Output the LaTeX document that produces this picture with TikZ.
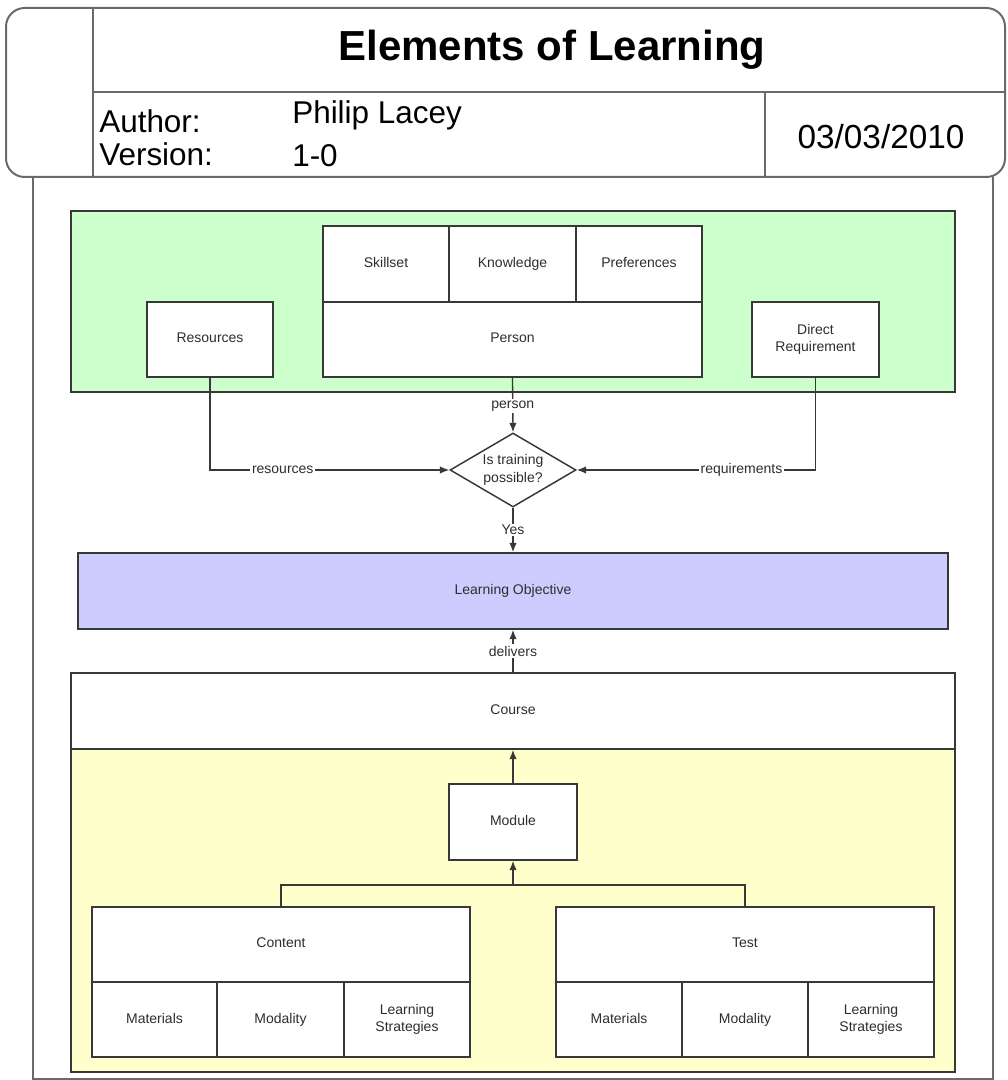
\documentclass[tikz,border=0pt]{standalone}
\usepackage{fontspec}
\setmainfont{Liberation Sans}
\usetikzlibrary{shapes.geometric,arrows.meta}
\definecolor{greenfill}{HTML}{CCFFCC}
\definecolor{bluefill}{HTML}{CCCCFF}
\definecolor{yellowfill}{HTML}{FFFFCC}
\definecolor{linecol}{HTML}{383838}
\definecolor{framecol}{HTML}{6A6A6A}
\definecolor{textcol}{HTML}{2E2E2E}
\tikzset{
  sz/.style 2 args={minimum width=#1*0.75pt, minimum height=#2*0.75pt},
  box/.style={draw=linecol, line width=1.1pt, fill=white, inner sep=0pt, align=center,
    font=\fontsize{10.5}{13}\selectfont, text=textcol,
    execute at begin node={\vphantom{Ag}}},
  area/.style={draw=linecol, line width=1.1pt, inner sep=0pt},
  lbl/.style={fill=white, inner sep=1.2pt, font=\fontsize{10.5}{13}\selectfont, text=textcol},
  conn/.style={draw=linecol, line width=1pt},
  arr/.style={conn, -{Latex[length=7pt,width=5.5pt]}},
  frm/.style={draw=framecol, line width=1.5pt},
  hdr/.style={inner sep=0pt, text=black},
}
\begin{document}
\begin{tikzpicture}[x=0.75pt,y=-0.75pt]
\useasboundingbox (0,0) rectangle (1007,1080);

% title block
\draw[frm, rounded corners=14pt] (6,8) rectangle (1005,177);
\draw[frm] (93,8) -- (93,177);
\draw[frm] (93,92) -- (1005,92);
\draw[frm] (765,92) -- (765,177);
\node[hdr, anchor=base, font=\fontsize{31.5}{36}\selectfont\bfseries] (title) at (552,61) {Elements of Learning};
\node[hdr, anchor=base west, font=\fontsize{23.6}{28}\selectfont] (author) at (99,133) {Author:};
\node[hdr, anchor=base west, font=\fontsize{23.6}{28}\selectfont] (version) at (99,166) {Version:};
\node[hdr, anchor=base west, font=\fontsize{23.6}{28}\selectfont] (name) at (292,124) {Philip Lacey};
\node[hdr, anchor=base west, font=\fontsize{23.6}{28}\selectfont] (ver) at (292,167) {1-0};
\node[hdr, anchor=base, font=\fontsize{25}{30}\selectfont] (date) at (881,149) {03/03/2010};

% outer frame
\draw[frm] (33,177) -- (33,1079) -- (993,1079) -- (993,177);

% green area
\node[area, fill=greenfill, sz={884}{181}] (green) at (513,301.5) {};
\node[box, sz={126}{75}] (res) at (210,339.5) {Resources};
\node[box, sz={126}{76}] (skill) at (386,264) {Skillset};
\node[box, sz={127}{76}] (know) at (512.5,264) {Knowledge};
\node[box, sz={126}{76}] (pref) at (639,264) {Preferences};
\node[box, sz={379}{75}] (person) at (512.5,339.5) {Person};
\node[box, sz={127}{75}] (dr) at (815.5,339.5) {Direct\\Requirement};

% decision
\node[box, diamond, aspect=1.7, sz={126}{74}] (dia) at (513,470) {Is training\\possible?};

% learning objective
\node[box, fill=bluefill, sz={870}{76}] (lo) at (513,591) {Learning Objective};

% course + yellow
\node[area, fill=yellowfill, sz={884}{323}] (yellow) at (513,910.5) {};
\node[box, sz={884}{76}] (course) at (513,711) {Course};
\node[box, sz={128}{76}] (module) at (513,822) {Module};

\node[box, sz={378}{75}] (content) at (281,944.5) {Content};
\node[box, sz={125}{75}] (mat1) at (154.5,1019.5) {Materials};
\node[box, sz={127}{75}] (mod1) at (280.5,1019.5) {Modality};
\node[box, sz={126}{75}] (ls1) at (407,1019.5) {Learning\\Strategies};

\node[box, sz={378}{75}] (test) at (745,944.5) {Test};
\node[box, sz={126}{75}] (mat2) at (619,1019.5) {Materials};
\node[box, sz={126}{75}] (mod2) at (745,1019.5) {Modality};
\node[box, sz={126}{75}] (ls2) at (871,1019.5) {Learning\\Strategies};

% connectors
\draw[arr] (person.south) -- node[lbl, pos=0.52]{person} (dia.north);
\draw[arr] (res.south) |- node[lbl, pos=0.652]{resources} (dia.west);
\draw[arr] (dr.south) |- node[lbl, pos=0.655]{requirements} (dia.east);
\draw[arr] (dia.south) -- node[lbl]{Yes} (lo.north);
\draw[arr] (course.north) -- node[lbl]{delivers} (lo.south);
\draw[arr] (module.north) -- (course.south);
\coordinate (bus) at (513,885);
\draw[conn] (content.north) |- (bus);
\draw[conn] (test.north) |- (bus);
\draw[arr] (bus) -- (module.south);
\end{tikzpicture}
\end{document}
